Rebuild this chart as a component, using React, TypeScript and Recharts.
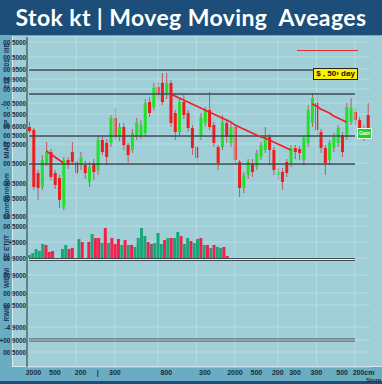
import { ComposedChart, BarChart, Bar, Line, XAxis, YAxis, CartesianGrid, ReferenceLine, Cell } from "recharts";

const TITLE = "Stok kt | Moveg Moving  Aveages";

// daily candles
const candleOpen = [238, 235, 192, 178, 202, 213, 192, 187, 158, 205, 213, 203, 200, 200, 183, 202, 195, 225, 222, 222, 247, 228, 238, 220, 215, 228, 230, 232, 263, 258, 278, 282, 270, 282, 252, 233, 263, 252, 237, 218, 230, 242, 255, 240, 218, 218, 242, 222, 238, 203, 177, 190, 202, 198, 208, 215, 228, 215, 190, 193, 203, 202, 217, 216, 205, 222, 242, 262, 233, 217, 205, 217, 222, 230, 228, 243, 253, 245, 227, 250];
const candleClose = [234, 178, 177, 205, 213, 188, 180, 165, 205, 200, 203, 192, 208, 192, 198, 193, 225, 213, 208, 247, 228, 238, 220, 210, 232, 243, 240, 262, 252, 277, 270, 263, 282, 242, 233, 263, 250, 237, 217, 207, 247, 255, 238, 222, 202, 243, 228, 238, 205, 177, 190, 203, 193, 212, 220, 228, 215, 195, 193, 183, 192, 217, 213, 212, 227, 255, 267, 235, 217, 202, 222, 228, 237, 213, 258, 257, 245, 233, 237, 237];
const candleHigh = [243, 237, 195, 210, 223, 216, 195, 190, 208, 208, 223, 206, 213, 204, 203, 206, 230, 228, 226, 250, 257, 242, 242, 222, 236, 247, 245, 266, 268, 282, 283, 292, 292, 285, 255, 266, 270, 255, 240, 220, 252, 258, 273, 243, 220, 250, 246, 242, 240, 205, 193, 206, 206, 215, 223, 238, 231, 218, 197, 197, 206, 220, 220, 219, 230, 260, 272, 272, 236, 220, 225, 232, 240, 233, 262, 267, 256, 248, 240, 262];
const candleLow = [232, 175, 165, 175, 199, 185, 176, 157, 155, 196, 200, 188, 195, 186, 178, 185, 190, 210, 200, 218, 225, 224, 215, 202, 212, 225, 226, 228, 248, 255, 266, 260, 266, 238, 225, 230, 246, 233, 210, 200, 225, 238, 235, 218, 195, 215, 222, 218, 200, 168, 172, 186, 188, 195, 205, 212, 200, 190, 185, 175, 188, 198, 206, 205, 200, 218, 238, 230, 212, 190, 200, 213, 218, 208, 225, 240, 240, 228, 224, 234];

// moving average, broken into pieces as drawn
const maValues: (number | null)[] = [
  null, null, null, null, 214, 211, 208, 205, 202, null,
  null, null, null, null, null, null, null, null, null, null,
  null, null, null, null, null, null, null, null, null, null,
  null, null, null, 271, 269, 267, 265, 263, 261, 259,
  257, 255, 253, 251, 249, 247, 245, 243, 240, 238,
  236, 234, 232, 230, 228, 227, 225, 223, 221, 219,
  217, 215, null, null, null, null, 261, 259, 256, 254,
  252, 249, 247, 245, 243, null, null, null, null, null,
];

const volValues = [3, 5, 9, 7, 14, 13, 6, 7, 0, 0, 9, 13, 9, 10, 0, 19, 16, 0, 16, 24, 20, 20, 15, 30, 15, 20, 14, 19, 13, 18, 13, 13, 11, 20, 30, 22, 16, 14, 15, 25, 14, 18, 20, 20, 20, 26, 22, 14, 20, 17, 15, 19, 20, 13, 13, 10, 13, 11, 10, 11, 2];
const volDir = "gggggrrrggggrrggrgrgrrgrgrrrgrgrggggrkgggrgrggrggrggrgrgrggrr";

const xTickIdx = [1, 6, 12, 16, 20, 32, 41, 48, 53, 58, 62, 67, 73, 78];
const xTickLabels = ["2000", "500", "200", "|", "300", "800", "300", "2000", "500", "200", "300", "300", "500", "200cm"];

const leftTicks = [323, 308, 296, 286, 276, 262, 251, 239, 230, 221, 202, 182, 167, 149, 139, 123, 107, 90, 72, 60, 38, 25, 13];
const leftLabels = ["00 5000", "00 5000", "00 9500", "00 9000", "00 9000", "-00 5000", "00 5000", "00 6000", "00 5000", "00 5000", "00 5000", "00 5000", "00 5000", "00 5000", "00 5000", "+5000", "00 9000", "00 9000", "00 9000", "00 5000", "-4 9000", "+00 9000", "00 5000"];
const rightTicks = [309, 296, 283, 272, 263, 251, 239, 218, 202, 175, 151, 128, 105, 87, 72, 60, 39, 25, 12];

const darkLevels = [295, 271, 229, 201];
const doubleLevels = [105.5, 25];
const vGrid = [11, 20, 30, 39, 48, 58, 67, 76];

const stripLabels = [
  { y: 48, t: "IIIE" }, { y: 63, t: "01" }, { y: 83, t: "213" }, { y: 108, t: "-" },
  { y: 124, t: "SP" }, { y: 150, t: "MIAIT" }, { y: 196, t: "Conntmnnaom" }, { y: 227, t: "-" },
  { y: 243, t: "ETIIT" }, { y: 257, t: "SE" }, { y: 278, t: "WIEWI" }, { y: 313, t: "RWIE" },
];

const GREEN = "#25e02a";
const RED = "#f21c1c";
const WICK = "#bf5a64";
const LABEL = "#1d2b3a";
const BG = "#a0cfd8";

const candles = candleOpen.map((o, i) => ({
  day: i,
  open: o,
  close: candleClose[i],
  high: candleHigh[i],
  low: candleLow[i],
  range: [candleLow[i], candleHigh[i]],
  ma: maValues[i],
}));

const volume = volValues.map((v, i) => ({ n: i, vol: v, dir: volDir[i] }));

const Candle = (props: any) => {
  const { x, y, width, height, payload } = props;
  const { open, close, high, low } = payload;
  const top = Math.min(y, y + height);
  const h = Math.abs(height);
  const ratio = high === low ? 0 : h / (high - low);
  const bodyTop = top + (high - Math.max(open, close)) * ratio;
  const bodyH = Math.max(1, Math.abs(open - close) * ratio);
  const cx = x + width / 2;
  return (
    <g>
      <line x1={cx} x2={cx} y1={top} y2={top + h} stroke={WICK} strokeWidth={1} />
      <rect x={x} y={bodyTop} width={width} height={bodyH} fill={close >= open ? GREEN : RED} />
    </g>
  );
};

const LeftTick = (p: any) => (
  <text x={p.x} y={p.y} dy={2.5} textAnchor="end" fontSize={6.3} fontWeight={700} fill={LABEL}>
    {leftLabels[leftTicks.indexOf(p.payload.value)]}
  </text>
);

const RightTick = (p: any) => (
  <text x={p.x - 12} y={p.y} dy={2.5} textAnchor="start" fontSize={6.5} fontWeight={700} fill={LABEL}>
    •80000
  </text>
);

const BottomTick = (p: any) => (
  <text x={p.x} y={p.y} dy={0} textAnchor="middle" fontSize={7} fontWeight={700} fill={LABEL}>
    {xTickLabels[xTickIdx.indexOf(p.payload.value)]}
  </text>
);

export default function App() {
  return (
    <div style={{ position: "absolute", left: 0, top: 0, width: 382, height: 384, background: "#1c4e79", overflow: "hidden", fontFamily: "'Liberation Sans', Arial, sans-serif" }}>
      <div style={{ position: "absolute", left: 0, top: 0, width: 382, height: 35, lineHeight: "35px", textAlign: "center", color: "#fff", fontFamily: "Lato", fontWeight: 700, fontSize: 23, letterSpacing: 0.4, whiteSpace: "pre" }}>
        {TITLE}
      </div>
      <div style={{ position: "absolute", left: 0, top: 35, width: 382, height: 346, background: "#6aacc1" }} />
      <div style={{ position: "absolute", left: 12, top: 36, width: 370, height: 331, background: BG, borderLeft: "1px solid #d6edf1", borderBottom: "1px solid #d6edf1", boxSizing: "border-box" }} />
      <svg style={{ position: "absolute", left: 0, top: 0 }} width={13} height={384}>
        {stripLabels.map((s, i) => (
          <text key={i} x={0} y={0} transform={`translate(9 ${s.y}) rotate(-90)`} textAnchor="middle" fontSize={6.5} fontWeight={700} fill="#1d3550">
            {s.t}
          </text>
        ))}
      </svg>

      <div style={{ position: "absolute", left: 0, top: 0 }}>
        <ComposedChart width={382} height={384} data={candles} margin={{ top: 37, right: 12, bottom: 0, left: 13 }}>
          <CartesianGrid yAxisId="price" vertical={false} stroke="#b8dde4" strokeWidth={1} />
          <XAxis dataKey="day" ticks={xTickIdx} interval={0} height={17} axisLine={false} tickLine={false} tick={<BottomTick />} />
          <YAxis yAxisId="price" domain={[-2, 328]} ticks={leftTicks} width={14} interval={0} allowDataOverflow tickSize={0} tickMargin={1} tickLine={false} axisLine={{ stroke: "#3d4b52", strokeWidth: 1.2 }} tick={<LeftTick />} />
          <YAxis yAxisId="right" orientation="right" domain={[-2, 328]} ticks={rightTicks} width={0} interval={0} tickSize={0} tickMargin={0} tickLine={false} axisLine={false} tick={<RightTick />} />
          {vGrid.map((d) => (
            <ReferenceLine key={`v${d}`} yAxisId="price" x={d} stroke="#b8dde4" strokeWidth={1} />
          ))}
          {darkLevels.map((v) => (
            <ReferenceLine key={`d${v}`} yAxisId="price" segment={[{ x: 0, y: v }, { x: 76, y: v }]} stroke="#3d4b52" strokeWidth={1.3} />
          ))}
          {doubleLevels.map((v) => (
            <ReferenceLine key={`w${v}`} yAxisId="price" segment={[{ x: 0, y: v }, { x: 76, y: v }]} stroke="#3d4b52" strokeWidth={3} />
          ))}
          {doubleLevels.map((v) => (
            <ReferenceLine key={`e${v}`} yAxisId="price" segment={[{ x: 0, y: v }, { x: 76, y: v }]} stroke="#e8f5f7" strokeWidth={1} />
          ))}
          <Bar yAxisId="price" dataKey="range" barSize={3} shape={<Candle />} isAnimationActive={false} />
          <Line yAxisId="price" dataKey="ma" stroke="#f01f24" strokeWidth={1.6} dot={false} connectNulls={false} isAnimationActive={false} />
        </ComposedChart>
      </div>

      <div style={{ position: "absolute", left: 28, top: 218 }}>
        <BarChart width={201} height={40} data={volume} margin={{ top: 0, right: 0, bottom: 0, left: 0 }} barCategoryGap={0}>
          <XAxis dataKey="n" hide />
          <YAxis domain={[0, 40]} hide />
          <Bar dataKey="vol" barSize={3} isAnimationActive={false}>
            {volume.map((d, i) => (
              <Cell key={i} fill={d.dir === "g" ? "#17a87a" : d.dir === "r" ? "#f4204c" : "#6a6a70"} />
            ))}
          </Bar>
        </BarChart>
      </div>

      <div style={{ position: "absolute", left: 297, top: 50, width: 61, height: 1, background: "#e03030" }} />
      <div style={{ position: "absolute", left: 313, top: 68, width: 45, height: 12, boxSizing: "border-box", background: "#fff200", border: "1px solid #222", fontSize: 8, fontWeight: 700, lineHeight: "10px", textAlign: "center", color: "#111" }}>
        $ , 50› day
      </div>
      <div style={{ position: "absolute", left: 357, top: 128, width: 15, height: 11, boxSizing: "border-box", background: "#22cc33", border: "1px solid #e8fff0", fontSize: 5, fontWeight: 700, lineHeight: "9px", textAlign: "center", color: "#fff" }}>
        Gain
      </div>
      <div style={{ position: "absolute", left: 366, top: 377, fontSize: 6, lineHeight: "6px", fontWeight: 700, color: LABEL }}>Stom</div>
    </div>
  );
}
